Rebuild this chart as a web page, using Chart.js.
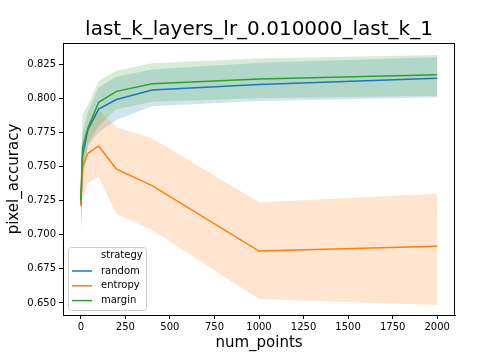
<!DOCTYPE html>
<html>
<head>
<meta charset="utf-8">
<script src="https://cdn.jsdelivr.net/npm/chart.js@4.4.1/dist/chart.umd.min.js"></script>
<style>
  html, body { margin: 0; padding: 0; background: #fff; }
  #wrap { width: 504px; height: 360px; }
</style>
</head>
<body>
<div id="wrap"><canvas id="myChart" width="504" height="360"></canvas></div>
<script>
const numPoints = [0, 10, 40, 100, 200, 400, 1000, 2000];

const randomMean = [0.722, 0.758, 0.777, 0.792, 0.799, 0.806, 0.810, 0.8145];
const randomLow = [0.700, 0.738, 0.765, 0.775, 0.784, 0.794, 0.798, 0.8006];
const randomHigh = [0.745, 0.775, 0.790, 0.808, 0.8157, 0.821, 0.826, 0.830];

const entropyMean = [0.721, 0.750, 0.7596, 0.765, 0.748, 0.736, 0.688, 0.6915];
const entropyLow = [0.700, 0.725, 0.738, 0.7425, 0.715, 0.7035, 0.653, 0.6485];
const entropyHigh = [0.742, 0.770, 0.782, 0.791, 0.7787, 0.7706, 0.7238, 0.730];

const marginMean = [0.725, 0.764, 0.778, 0.797, 0.805, 0.8106, 0.814, 0.8172];
const marginLow = [0.702, 0.745, 0.767, 0.7796, 0.7918, 0.7974, 0.800, 0.8018];
const marginHigh = [0.750, 0.788, 0.795, 0.8128, 0.820, 0.8255, 0.829, 0.8316];

const xTicks = [0, 250, 500, 750, 1000, 1250, 1500, 1750, 2000];
const yTicks = [0.650, 0.675, 0.700, 0.725, 0.750, 0.775, 0.800, 0.825];

const strategies = ["random", "entropy", "margin"];
const colors = { random: "#1f77b4", entropy: "#ff7f0e", margin: "#2ca02c" };
const bands = { random: "rgba(31,119,180,0.2)", entropy: "rgba(255,127,14,0.2)", margin: "rgba(44,160,44,0.2)" };

const chartTitle = "last_k_layers_lr_0.010000_last_k_1";
const FONT = "'DejaVu Sans', sans-serif";

const pts = (ys) => numPoints.map((x, i) => ({ x: x, y: ys[i] }));

const series = {
  random: [randomMean, randomLow, randomHigh],
  entropy: [entropyMean, entropyLow, entropyHigh],
  margin: [marginMean, marginLow, marginHigh],
};

// margin first so it ends up on top (chart.js draws index 0 last)
let datasets = [];
["margin", "entropy", "random"].forEach((name) => {
  const [mean, lo, hi] = series[name];
  datasets.push({
    label: name,
    data: pts(mean),
    borderColor: colors[name],
    borderWidth: 1.5,
    pointRadius: 0,
    fill: false,
  });
  datasets.push({
    label: name + "_hi",
    data: pts(hi),
    borderWidth: 0,
    borderColor: "rgba(0,0,0,0)",
    backgroundColor: bands[name],
    pointRadius: 0,
    fill: "+1",
  });
  datasets.push({
    label: name + "_lo",
    data: pts(lo),
    borderWidth: 0,
    borderColor: "rgba(0,0,0,0)",
    pointRadius: 0,
    fill: false,
  });
});

// title, frame and the seaborn style legend inside the axes
const extras = {
  id: "extras",
  afterDraw(chart) {
    const ctx = chart.ctx;
    const a = chart.chartArea;
    ctx.save();
    ctx.strokeStyle = "#000";
    ctx.lineWidth = 1;
    ctx.strokeRect(Math.round(a.left) + 0.5, Math.round(a.top) + 0.5,
      Math.round(a.right - a.left) - 1, Math.round(a.bottom - a.top));

    ctx.fillStyle = "#000";
    ctx.font = "20px " + FONT;
    ctx.textAlign = "center";
    ctx.textBaseline = "middle";
    ctx.fillText(chartTitle, (a.left + a.right) / 2, 30);

    // legend box
    const bx = 68, by = 247, bw = 78, bh = 63;
    ctx.fillStyle = "rgba(255,255,255,0.8)";
    ctx.strokeStyle = "#cccccc";
    ctx.beginPath();
    ctx.roundRect(bx + 0.5, by + 0.5, bw, bh, 3);
    ctx.fill();
    ctx.stroke();

    ctx.font = "10px " + FONT;
    ctx.textAlign = "left";
    ctx.fillStyle = "#000";
    ctx.fillText("strategy", 101, 255);
    strategies.forEach((name, i) => {
      const y = 271 + i * 14.8;
      ctx.strokeStyle = colors[name];
      ctx.lineWidth = 1.5;
      ctx.beginPath();
      ctx.moveTo(72, y);
      ctx.lineTo(92, y);
      ctx.stroke();
      ctx.fillStyle = "#000";
      ctx.fillText(name, 101, y);
    });
    ctx.restore();
  },
};

new Chart(document.getElementById("myChart"), {
  type: "line",
  data: { datasets: datasets },
  plugins: [extras],
  options: {
    responsive: false,
    animation: false,
    parsing: true,
    layout: { padding: { top: 43, right: 49, left: 0, bottom: 0 } },
    plugins: {
      legend: { display: false },
      title: { display: false },
      tooltip: { enabled: false },
      filler: { drawTime: "beforeDatasetsDraw" },
    },
    scales: {
      x: {
        type: "linear",
        min: -100,
        max: 2100,
        afterBuildTicks: (s) => { s.ticks = xTicks.map((v) => ({ value: v })); },
        afterFit: (s) => { s.height = 45; },
        grid: { drawOnChartArea: false, drawTicks: true, tickLength: 4, color: "#000" },
        border: { display: true, color: "#000" },
        ticks: {
          color: "#000",
          font: { family: FONT, size: 10 },
          padding: 2,
          maxRotation: 0,
          autoSkip: false,
          callback: (v) => String(v),
        },
        title: {
          display: true,
          text: "num_points",
          color: "#000",
          font: { family: FONT, size: 15 },
          padding: { top: 0, bottom: 8 },
        },
      },
      y: {
        type: "linear",
        min: 0.6412,
        max: 0.8404,
        afterBuildTicks: (s) => { s.ticks = yTicks.map((v) => ({ value: v })); },
        afterFit: (s) => { s.width = 63; },
        grid: { drawOnChartArea: false, drawTicks: true, tickLength: 4, color: "#000" },
        border: { display: true, color: "#000" },
        ticks: {
          color: "#000",
          font: { family: FONT, size: 10 },
          padding: 3,
          autoSkip: false,
          callback: (v) => v.toFixed(3),
        },
        title: {
          display: true,
          text: "pixel_accuracy",
          color: "#000",
          font: { family: FONT, size: 15 },
          padding: { top: 5, bottom: 0 },
        },
      },
    },
  },
});
</script>
</body>
</html>
